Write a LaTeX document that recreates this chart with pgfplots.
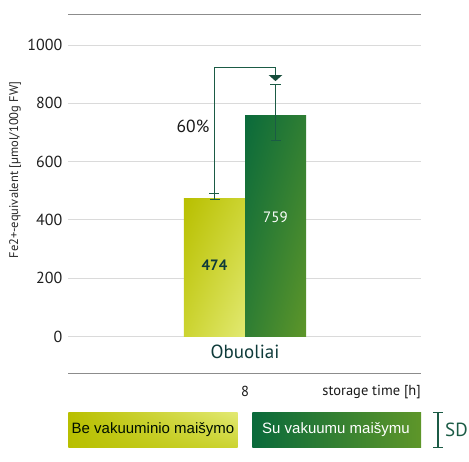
\documentclass[border=0pt]{standalone}
\usepackage{pgfplots}
\pgfplotsset{compat=1.18}
\usetikzlibrary{shadings}
\usepackage{fontspec}
\setmainfont{PT Sans}
\newfontfamily\arialf{Liberation Sans}
\definecolor{ylA}{HTML}{B8BF00}
\definecolor{ylM}{HTML}{CCD431}
\definecolor{ylB}{HTML}{E2E972}
\definecolor{grA}{HTML}{0A6A3B}
\definecolor{grM}{HTML}{2F7E33}
\definecolor{grB}{HTML}{5E9629}
\definecolor{dk}{HTML}{1B5B45}
\definecolor{tealtxt}{HTML}{0F3B3A}
\definecolor{gridc}{HTML}{DADADA}
\definecolor{linec}{HTML}{8C8C8C}
\begin{document}
\begin{tikzpicture}[x=1pt,y=1pt]
\path[use as bounding box] (-68.3,-88.7) rectangle (400.7,373.3);
\begin{axis}[
  at={(0,0)}, anchor=south west,
  scale only axis, width=352.7pt, height=359pt,
  xmin=68.3, xmax=421, ymin=-126.2, ymax=1105.3,
  clip=false,
  axis line style={draw=none},
  xtick=\empty,
  ytick={0,200,400,600,800,1000},
  major tick length=0pt,
  ymajorgrids,
  grid style={gridc, line width=0.9pt},
  /pgf/number format/assume math mode=true,
  /pgf/number format/1000 sep={},
  yticklabel style={font=\fontsize{16}{18}\selectfont, text=black!88, xshift=-2.5pt},
]
% bars
\addplot[ybar, bar width=61, draw=none, upper left=ylA, upper right=ylM, lower left=ylM, lower right=ylB]
  coordinates {(214.5,474)};
\addplot[ybar, bar width=61, draw=none, upper left=grA, upper right=grM, lower left=grM, lower right=grB]
  coordinates {(275.5,759)};
% error bars (SD)
\addplot[draw=none, no markers,
  error bars/.cd, y dir=both, y explicit,
  error bar style={draw=dk, line width=1pt},
  error mark options={draw=dk, line width=1pt, mark size=5pt, rotate=90}]
  coordinates {(214.5,474) += (0,17) -= (0,4)
               (275.5,759) += (0,104) -= (0,88)};
% top and bottom rules
\draw[linec, line width=1.1pt] (axis cs:68.3,1105.3) -- (axis cs:421,1105.3);
\draw[linec, line width=1.1pt] (axis cs:68.3,-126.2) -- (axis cs:421,-126.2);
% comparison bracket
\draw[dk, line width=1.2pt] (axis cs:214.5,491) |- (axis cs:275.5,922) -- (axis cs:275.5,897);
\fill[dk!85!black] (axis cs:268.7,897) -- (axis cs:282.3,897) -- (axis cs:275.5,876) -- cycle;
\node[anchor=center, font=\fontsize{17.5}{20}\selectfont, text=black!90] at (axis cs:193,720) {60\%};
% value labels
\node[font=\fontsize{15}{18}\selectfont\bfseries, text=tealtxt] at (axis cs:214.5,245) {474};
\node[font=\fontsize{15}{18}\selectfont, text=white] at (axis cs:275.5,410) {759};
% category
\node[font=\fontsize{19}{22}\selectfont, text=tealtxt] at (axis cs:245,-53) {Obuoliai};
\node[font=\fontsize{14.5}{17}\selectfont, text=black!90] at (axis cs:245,-189.4) {8};
\node[anchor=east, inner sep=0pt, font=\fontsize{14.5}{17}\selectfont, text=black!90] at (axis cs:421,-189.4) {storage time [h]};
% y label
\node[rotate=90, font=\fontsize{12.5}{15}\selectfont, text=black!85] at (axis cs:15,571) {Fe2+-equivalent [µmol/100g FW]};
% legend boxes
\path[upper left=ylA, lower left=ylA, upper right=ylB, lower right=ylM] (axis cs:68.3,-261.4) rectangle (axis cs:237.7,-380.1);
\node[font=\arialf\fontsize{15}{18}\selectfont, text=black!85!green!40!black] at (axis cs:153,-320.8) {Be vakuuminio maišymo};
\path[upper left=grA, lower left=grA, upper right=grB, lower right=grB] (axis cs:252.3,-261.4) rectangle (axis cs:421,-380.1);
\node[font=\arialf\fontsize{15}{18}\selectfont, text=white] at (axis cs:336,-320.8) {Su vakuumu maišymu};
% SD key
\draw[dk, line width=1.1pt] (axis cs:438,-261.4) -- (axis cs:438,-380.1);
\draw[dk, line width=1.1pt] (axis cs:433,-261.4) -- (axis cs:443,-261.4);
\draw[dk, line width=1.1pt] (axis cs:433,-380.1) -- (axis cs:443,-380.1);
\node[anchor=west, inner sep=0pt, font=\fontsize{19}{22}\selectfont, text=dk] at (axis cs:445,-320.8) {SD};
\end{axis}
\end{tikzpicture}
\end{document}
